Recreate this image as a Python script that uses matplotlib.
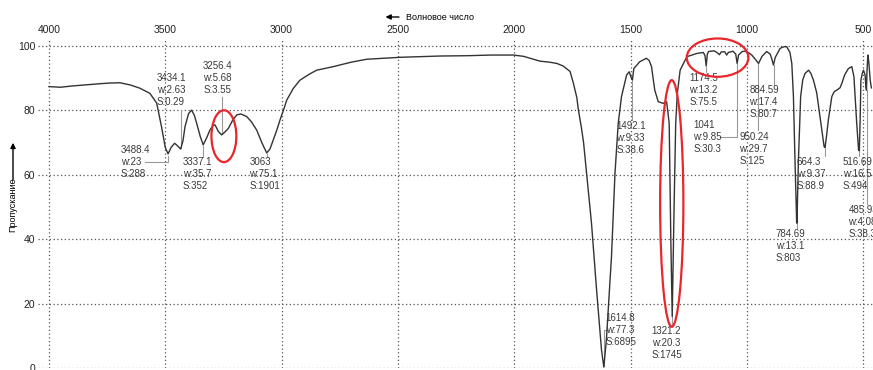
import matplotlib
matplotlib.use("Agg")
import matplotlib.pyplot as plt
from matplotlib import font_manager
from matplotlib.patches import Ellipse

# IR spectrum: wavenumber (cm-1) and transmittance (%)
wavenumber = [
    4000, 3950, 3900, 3850, 3780, 3740, 3695, 3650, 3609, 3566, 3537, 3516,
    3500, 3488, 3475, 3460, 3447, 3434, 3424, 3415, 3400, 3387, 3375, 3365,
    3350, 3337, 3322, 3308, 3295, 3286, 3272, 3258, 3245, 3229, 3210, 3193,
    3175, 3150, 3130, 3107, 3085, 3064, 3050, 3036, 3020, 3007, 2990, 2978,
    2950, 2921, 2880, 2849, 2778, 2700, 2634, 2560, 2491, 2400, 2319, 2200,
    2100, 2003, 1960, 1932, 1889, 1850, 1817, 1790, 1760, 1746, 1731, 1725,
    1711, 1702, 1689, 1668, 1646, 1625, 1615, 1604, 1582, 1567, 1553, 1539,
    1517, 1506, 1496, 1492, 1486, 1461, 1432, 1420, 1410, 1396, 1381, 1360,
    1345, 1334, 1327, 1321, 1313, 1306, 1299, 1287, 1258, 1215, 1187, 1180,
    1175, 1170, 1165, 1140, 1125, 1118, 1110, 1095, 1087, 1080, 1060, 1048,
    1042, 1036, 1020, 1008, 990, 979, 965, 950, 935, 915, 900, 893, 886, 878,
    857, 840, 829, 815, 807, 800, 793, 786, 784.7, 779, 769, 760, 750, 735,
    725, 714, 700, 692, 680, 668, 664, 657, 650, 635, 625, 614, 600, 592,
    580, 564, 549, 540, 535, 528, 520, 516.7, 513, 510, 504, 499, 492, 488,
    486, 484, 480, 476, 470, 465,
]
transmittance = [
    87.4, 87.2, 87.6, 87.9, 88.3, 88.5, 88.6, 87.9, 86.9, 85.3, 82.3, 74.9,
    68.5, 66.5, 68.5, 69.8, 69.0, 68.0, 70.5, 75.0, 79.0, 80.1, 78.5, 76.0,
    72.0, 69.3, 71.5, 73.9, 75.3, 75.5, 73.5, 72.4, 73.2, 74.4, 77.0, 78.6,
    78.9, 78.1, 76.5, 73.9, 70.0, 66.8, 68.0, 70.8, 74.0, 77.0, 80.5, 83.2,
    86.8, 89.4, 91.3, 92.5, 93.6, 95.0, 95.9, 96.2, 96.5, 96.7, 96.9, 97.0,
    97.2, 97.2, 96.8, 96.2, 95.3, 95.0, 94.6, 93.8, 92.1, 88.5, 84.0, 80.5,
    74.5, 70.0, 60.5, 45.0, 24.2, 5.6, 0.3, 8.7, 34.6, 60.5, 76.0, 84.3,
    91.0, 92.0, 90.0, 89.5, 93.0, 95.1, 96.2, 95.5, 93.6, 86.3, 82.7, 82.2,
    82.7, 76.0, 39.8, 16.0, 50.0, 76.0, 85.3, 92.5, 96.7, 97.7, 98.0, 97.0,
    93.8, 97.5, 98.3, 98.5, 97.8, 97.3, 98.2, 98.2, 97.2, 98.0, 98.4, 97.5,
    94.6, 97.2, 98.3, 98.4, 97.8, 97.2, 96.0, 94.6, 96.8, 98.3, 97.5, 96.0, 94.1, 96.5,
    99.3, 99.8, 99.8, 98.0, 94.6, 84.3, 63.6, 45.0, 45.0, 63.6, 84.3, 89.5, 91.5, 92.5,
    91.5, 89.4, 85.5, 81.2, 75.0, 68.7, 68.5, 72.5, 77.0, 84.3, 85.8, 86.3, 87.0, 88.4,
    91.0, 93.0, 93.6, 90.5, 84.3, 76.0, 67.7, 67.5, 78.0, 89.4, 91.5, 92.5, 91.0, 87.0,
    86.3, 92.0, 97.2, 95.0, 89.4, 87.0,
]

# peak labels
peak_wn = [3488.4, 3434.1, 3256.4, 3337.1, 3063, 1492.1, 1614.8, 1321.2,
           1174.5, 1041, 950.24, 884.59, 784.69, 664.3, 516.69, 485.93]
peak_w = ["23", "2.63", "5.68", "35.7", "75.1", "9.33", "77.3", "20.3",
          "13.2", "9.85", "29.7", "17.4", "13.1", "9.37", "16.5", "4.08"]
peak_s = ["288", "0.29", "3.55", "352", "1901", "38.6", "6895", "1745",
          "75.5", "30.3", "125", "80.7", "803", "88.9", "494", "38.3"]

# layout: where each label block sits (left x, top y) and its leader line
label_pos = [(3692, 69.2), (3537, 91.7), (3337, 95.4), (3425, 65.4), (3139, 65.4),
             (1562, 76.7), (1607, 17.1), (1409, 13.1), (1247, 91.7), (1230, 77.0),
             (1032, 73.3), (989, 88.0), (876, 43.3), (786, 65.6), (588, 65.6),
             (564, 50.6)]
leaders = [
    [(3585, 64.1), (3488.4, 64.1), (3488.4, 66.0)],
    [(3434.1, 80.1), (3434.1, 68.4)],
    [(3256.4, 84.3), (3256.4, 72.6)],
    [(3337.1, 68.8), (3337.1, 65.6)],
    [(3063, 66.4), (3063, 65.6)],
    [(1492.1, 89.4), (1492.1, 77.0)],
    [(1614.8, 0.5), (1614.8, 11.8), (1600, 11.8)],
    [(1321.2, 16.0), (1321.2, 13.5)],
    [(1174.5, 93.6), (1174.5, 92.0)],
    [(1115, 71.8), (1041, 71.8), (1041, 94.4)],
    [(950.24, 94.4), (950.24, 73.9)],
    [(884.59, 94.0), (884.59, 87.9)],
    [(784.69, 45.0), (784.69, 43.5)],
    [(664.3, 68.4), (664.3, 66.0)],
    [(516.69, 67.4), (516.69, 66.0)],
    [(485.93, 86.3), (485.93, 51.0)],
]

# red ellipses: centre (wn, T), width (cm-1), height (%)
ellipses = [((3248, 72.0), 107, 16.1), ((1323, 51.1), 100, 76.6),
            ((1126, 96.4), 265, 11.9)]

names = {f.name for f in font_manager.fontManager.ttflist}
fam = "Liberation Sans Narrow" if "Liberation Sans Narrow" in names else "Liberation Sans"
plt.rcParams["font.family"] = [fam, "DejaVu Sans"]

W, H = 873, 370
fig = plt.figure(figsize=(W / 100, H / 100), dpi=100)
ax = fig.add_axes([38 / W, 2 / H, 835 / W, 328.4 / H])

ax.plot(wavenumber, transmittance, color="#333333", lw=1.0, zorder=3)

ax.set_xlim(4047, 458)
ax.set_ylim(0, 102)
ax.set_xticks([4000, 3500, 3000, 2500, 2000, 1500, 1000, 500])
ax.set_yticks([0, 20, 40, 60, 80, 100])
ax.xaxis.tick_top()
ax.tick_params(length=0, labelsize=7.5, colors="#222222")
ax.tick_params(axis="x", pad=3)
ax.tick_params(axis="y", pad=2)
for sp in ax.spines.values():
    sp.set_visible(False)
ax.grid(True, color="#555555", lw=0.9, linestyle=(0, (1, 2)))

for i in range(len(peak_wn)):
    txt = "%s\nw:%s\nS:%s" % (peak_wn[i], peak_w[i], peak_s[i])
    x, y = label_pos[i]
    ax.text(x, y, txt, fontsize=7, color="#3a3a3a", ha="left", va="top",
            linespacing=1.25, zorder=4, clip_on=False)
    xs = [p[0] for p in leaders[i]]
    ys = [p[1] for p in leaders[i]]
    ax.plot(xs, ys, color="#999999", lw=0.8, zorder=2)

for (c, w, h) in ellipses:
    ax.add_patch(Ellipse(c, w, h, fill=False, ec="#e8262c", lw=1.6,
                         zorder=5, clip_on=False))

# axis captions with arrows
fig.text(405.7 / W, 1 - 17 / H, "Волновое число", fontsize=6.5,
         ha="left", va="center")
fig.add_artist(matplotlib.patches.FancyArrowPatch(
    (401.7 / W, 1 - 17 / H), (382.7 / W, 1 - 17 / H),
    transform=fig.transFigure, arrowstyle="-|>,head_length=3,head_width=1.5",
    color="black", lw=1.0))
fig.text(13 / W, 1 - 205 / H, "Пропускание", fontsize=6.5, rotation=90,
         ha="center", va="center")
fig.add_artist(matplotlib.patches.FancyArrowPatch(
    (13 / W, 1 - 183 / H), (13 / W, 1 - 140 / H),
    transform=fig.transFigure, arrowstyle="-|>,head_length=3,head_width=1.5",
    color="black", lw=1.0))

fig.savefig("out.png", dpi=100)
